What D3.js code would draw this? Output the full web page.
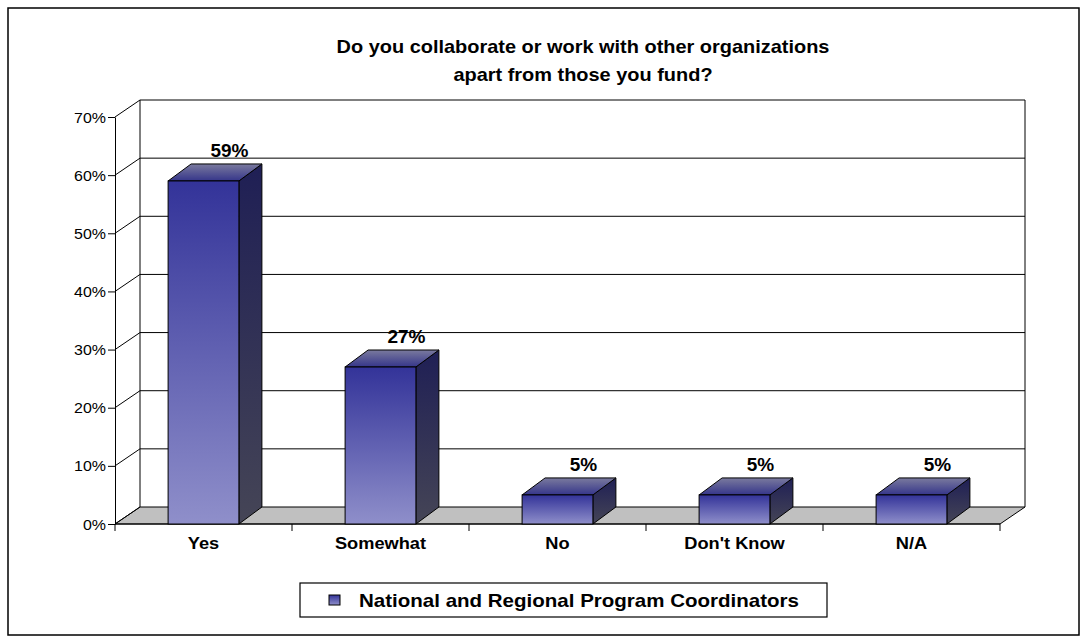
<!DOCTYPE html>
<html>
<head>
<meta charset="utf-8">
<script src="https://cdn.jsdelivr.net/npm/d3@7"></script>
<style>
  html, body { margin: 0; padding: 0; background: #fff; }
  svg { display: block; font-family: "Liberation Sans", Arial, sans-serif; }
</style>
</head>
<body>
<svg id="chart" width="1086" height="643"></svg>
<script>
// Survey responses
const categories = ["Yes", "Somewhat", "No", "Don't Know", "N/A"];
const values = [59, 27, 5, 5, 5];
const seriesName = "National and Regional Program Coordinators";
const yTicks = [0, 10, 20, 30, 40, 50, 60, 70];
const titleLines = ["Do you collaborate or work with other organizations", "apart from those you fund?"];

const W = 1086, H = 643;
const svg = d3.select("#chart");

// text in this chart is drawn slightly wide
const STRETCH = 1.14;

// 3D box geometry
const plot = { left: 115, right: 1000, bottom: 524, top: 117 };
const depth = { dx: 25, dy: -17 };
const barDepth = { dx: 23, dy: -17 };

const x = d3.scaleBand().domain(categories).range([plot.left, plot.right]).padding(0);
const y = d3.scaleLinear().domain([0, 70]).range([plot.bottom, plot.top]);
const barW = x.bandwidth() * 0.4;

// gradients
const defs = svg.append("defs");
const gFront = defs.append("linearGradient").attr("id", "gFront").attr("x1", 0).attr("y1", 0).attr("x2", 0).attr("y2", 1);
gFront.append("stop").attr("offset", "0%").attr("stop-color", "#333399");
gFront.append("stop").attr("offset", "100%").attr("stop-color", "#8f8fca");
const gTop = defs.append("linearGradient").attr("id", "gTop").attr("x1", 0).attr("y1", 0).attr("x2", 0).attr("y2", 1);
gTop.append("stop").attr("offset", "0%").attr("stop-color", "#7a7a9e");
gTop.append("stop").attr("offset", "100%").attr("stop-color", "#35358a");
const gSide = defs.append("linearGradient").attr("id", "gSide").attr("x1", 0).attr("y1", 0).attr("x2", 0).attr("y2", 1);
gSide.append("stop").attr("offset", "0%").attr("stop-color", "#1f1f55");
gSide.append("stop").attr("offset", "100%").attr("stop-color", "#454556");

// draws a horizontally widened text item anchored at (cx, cy)
function wideText(sel, cx, cy) {
  return sel.attr("transform", `translate(${cx},${cy}) scale(${STRETCH},1)`).attr("x", 0).attr("y", 0);
}

// chart area border
svg.append("rect")
  .attr("x", 8).attr("y", 8).attr("width", 1071).attr("height", 627)
  .attr("fill", "#fff").attr("stroke", "#000").attr("stroke-width", 1.5);

// title
svg.append("g").selectAll("text").data(titleLines).join("text")
  .each(function (d, i) { wideText(d3.select(this), 583, 52.5 + i * 28.5); })
  .attr("text-anchor", "middle")
  .attr("font-size", 17.5).attr("font-weight", "bold")
  .text(d => d);

const line = d3.line();
const wallL = plot.left + depth.dx, wallR = plot.right + depth.dx;

// floor
svg.append("path")
  .attr("d", line([[plot.left, plot.bottom], [plot.right, plot.bottom], [wallR, y(0) + depth.dy], [wallL, y(0) + depth.dy]]) + "Z")
  .attr("fill", "#c0c0c0").attr("stroke", "#000").attr("stroke-width", 1);

// back wall gridlines
svg.append("g").selectAll("line").data(yTicks.filter(t => t > 0)).join("line")
  .attr("x1", wallL).attr("x2", wallR)
  .attr("y1", d => y(d) + depth.dy).attr("y2", d => y(d) + depth.dy)
  .attr("stroke", "#000").attr("stroke-width", 1);

// wall verticals
svg.append("line").attr("x1", wallL).attr("x2", wallL).attr("y1", y(70) + depth.dy).attr("y2", y(0) + depth.dy).attr("stroke", "#000");
svg.append("line").attr("x1", wallR).attr("x2", wallR).attr("y1", y(70) + depth.dy).attr("y2", y(0) + depth.dy).attr("stroke", "#000");

// side wall diagonals
svg.append("g").selectAll("line").data(yTicks).join("line")
  .attr("x1", plot.left).attr("y1", d => y(d))
  .attr("x2", wallL).attr("y2", d => y(d) + depth.dy)
  .attr("stroke", "#000").attr("stroke-width", 1);

// y axis
const yAxis = svg.append("g").attr("transform", `translate(${plot.left},0)`)
  .call(d3.axisLeft(y).tickValues(yTicks).tickFormat(d => d + "%").tickSize(7).tickSizeOuter(0));
yAxis.select(".domain").attr("stroke", "#000");
yAxis.selectAll(".tick line").attr("stroke", "#000");
yAxis.selectAll(".tick text")
  .attr("font-size", 14).attr("font-family", "Liberation Sans, Arial, sans-serif").attr("fill", "#000")
  .attr("x", 0).attr("dy", null).attr("dominant-baseline", "central")
  .attr("transform", `translate(-9,0) scale(${STRETCH},1)`);

// x axis
const bounds = categories.map(c => x(c)).concat([plot.right]);
const xAxis = svg.append("g").attr("transform", `translate(0,${plot.bottom})`);
xAxis.append("line").attr("x1", plot.left).attr("x2", plot.right).attr("stroke", "#000");
xAxis.selectAll("line.tk").data(bounds).join("line").attr("class", "tk")
  .attr("x1", d => d).attr("x2", d => d).attr("y1", 0).attr("y2", 7).attr("stroke", "#000");
xAxis.selectAll("text").data(categories).join("text")
  .each(function (d) { wideText(d3.select(this), x(d) + x.bandwidth() / 2, 25); })
  .attr("text-anchor", "middle").attr("font-size", 16).attr("font-weight", "bold")
  .text(d => d);

// bars
const bars = svg.append("g").selectAll("g").data(categories.map((c, i) => ({ c, v: values[i] }))).join("g");
bars.each(function (d) {
  const g = d3.select(this);
  const x0 = x(d.c) + (x.bandwidth() - barW) / 2, x1 = x0 + barW;
  const yt = y(d.v), yb = y(0);
  const { dx, dy } = barDepth;
  g.append("path").attr("d", line([[x1, yt], [x1 + dx, yt + dy], [x1 + dx, yb + dy], [x1, yb]]) + "Z")
    .attr("fill", "url(#gSide)").attr("stroke", "#000").attr("stroke-width", 1).attr("stroke-linejoin", "round");
  g.append("path").attr("d", line([[x0, yt], [x0 + dx, yt + dy], [x1 + dx, yt + dy], [x1, yt]]) + "Z")
    .attr("fill", "url(#gTop)").attr("stroke", "#000").attr("stroke-width", 1).attr("stroke-linejoin", "round");
  g.append("rect").attr("x", x0).attr("y", yt).attr("width", barW).attr("height", yb - yt)
    .attr("fill", "url(#gFront)").attr("stroke", "#000").attr("stroke-width", 1);
  g.append("text")
    .attr("x", (x0 + x1) / 2 + dx + 3).attr("y", yt + dy - 7)
    .attr("text-anchor", "middle").attr("font-size", 19).attr("font-weight", "bold")
    .text(d.v + "%");
});

// legend
const lg = svg.append("g");
lg.append("rect").attr("x", 300).attr("y", 583).attr("width", 527).attr("height", 34)
  .attr("fill", "#fff").attr("stroke", "#000").attr("stroke-width", 1.2);
lg.append("rect").attr("x", 329).attr("y", 595).attr("width", 11).attr("height", 10)
  .attr("fill", "url(#gFront)").attr("stroke", "#000");
lg.append("text")
  .attr("transform", `translate(359,606.5) scale(${STRETCH},1)`)
  .attr("font-size", 18).attr("font-weight", "bold")
  .text(seriesName);
</script>
</body>
</html>
